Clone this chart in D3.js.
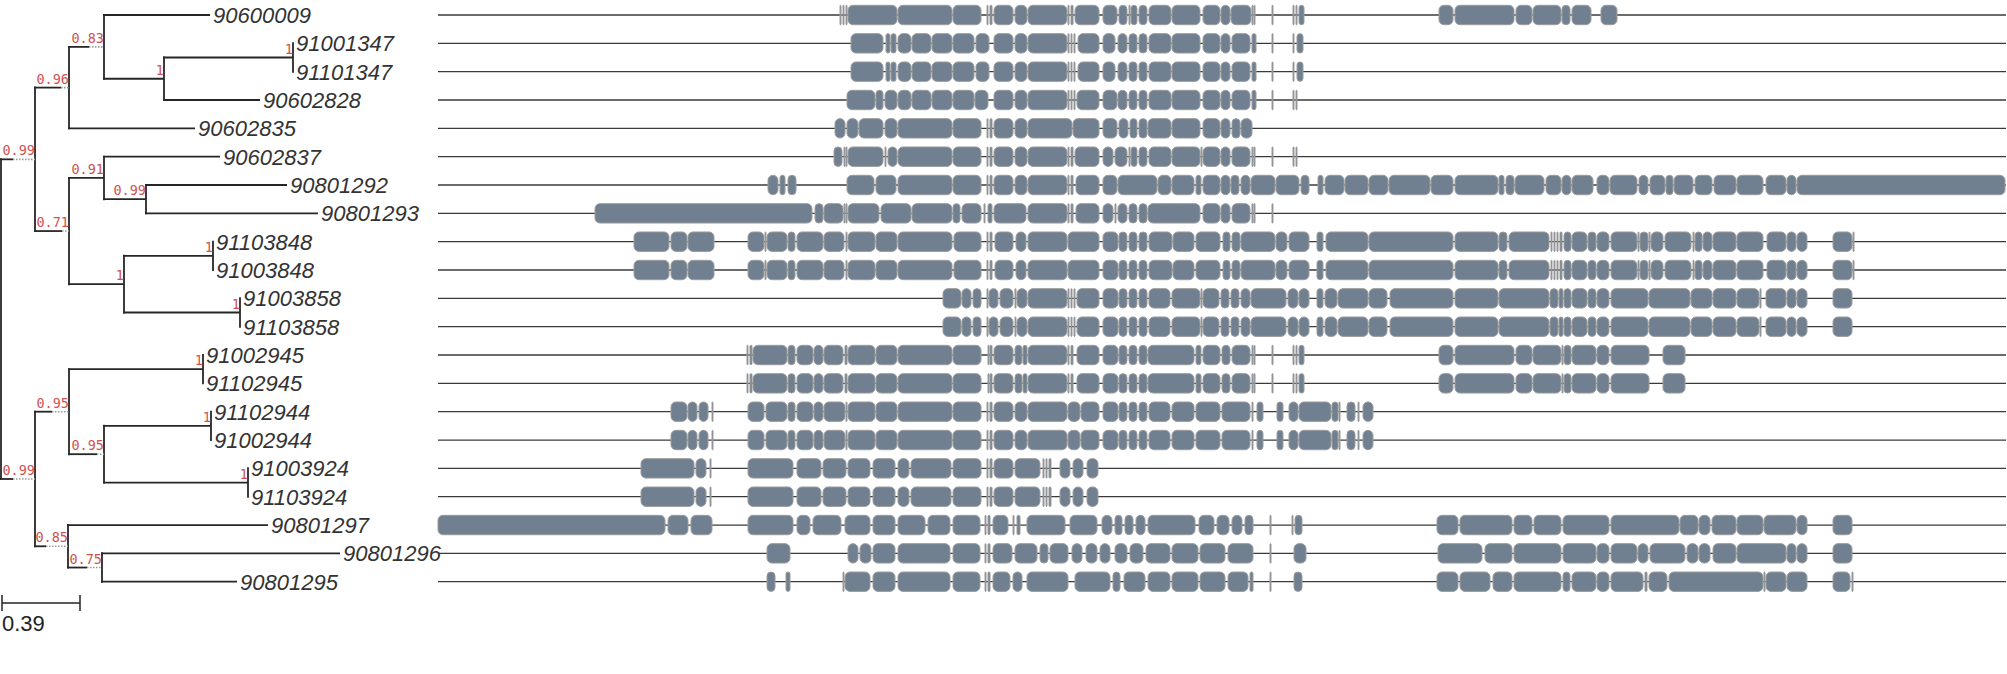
<!DOCTYPE html>
<html>
<head>
<meta charset="utf-8">
<script src="https://cdn.jsdelivr.net/npm/d3@7/dist/d3.min.js"></script>
<style>
  body { margin: 0; background: #fff; }
  svg { display: block; }
</style>
</head>
<body>
<script>
// ---- tree (parallel arrays, children in drawing order) ----
var nodeIds = ['root','A','B','D','90600009','E','F','91001347','91101347','90602828','90602835',
  'C','G','90602837','H','90801292','90801293','I','J','91103848','91003848','K','91003858','91103858',
  'L','M','O','91002945','91102945','P','Q','91102944','91002944','R','91003924','91103924',
  'N','90801297','S','90801296','90801295'];
var nodeParents = ['','root','A','B','D','D','E','F','F','E','B',
  'A','C','G','G','H','H','C','I','J','J','I','K','K',
  'root','L','M','O','O','M','P','Q','Q','P','R','R',
  'L','N','N','S','S'];
var branchLen = [0,0.17,0.17,0.175,0.53,0.30,0.645,0,0,0.48,0.63,
  0.17,0.175,0.58,0.21,0.705,0.86,0.275,0.445,0,0,0.58,0,0,
  0.17,0.17,0.67,0,0,0.175,0.535,0,0,0.72,0,0,
  0.165,1.0,0.17,1.19,0.675];
var support = [null,'0.99','0.96','0.83',null,'1','1',null,null,null,null,
  '0.71','0.91',null,'0.99',null,null,'1','1',null,null,'1',null,null,
  '0.99','0.95','1',null,null,'0.95','1',null,null,'1',null,null,
  '0.85',null,'0.75',null,null];
// part of the branch (tree units) shown dotted
var dottedTail = [0,0.11,0.04,0.075,0,0,0,0,0,0,0,
  0.035,0,0,0,0,0,0,0,0,0,0,0,0,
  0.11,0.085,0,0,0,0.035,0,0,0,0,0,0,
  0.11,0,0.075,0,0];
var scaleBarLen = 0.39;

// ---- gene structures: exon [start, end] on the alignment ----
var exons_90600009 = [[402,403],[405,406],[408,409],[410,459],[460,514],[515,543],[549,550],[552,554],[556,575],[577,589],[590,629],[630,631],[633,635],[637,661],[665,679],[681,689],[691,692],[693,699],[701,709],[711,733],[734,762],[765,782],[783,792],[793,813],[814,815],[816,817],[834,835],[855,856],[858,859],[861,866],[1001,1015],[1017,1076],[1078,1094],[1095,1123],[1124,1132],[1134,1153],[1163,1179]];
var exons_91001347 = [[413,445],[448,452],[453,458],[460,473],[474,493],[494,514],[515,536],[538,551],[556,575],[577,589],[590,629],[630,631],[633,634],[636,637],[640,661],[665,677],[680,689],[691,699],[701,709],[711,733],[734,762],[765,782],[783,792],[794,812],[814,818],[834,835],[855,856],[859,865]];
var exons_90602828 = [[409,437],[438,445],[447,459],[460,473],[474,493],[494,514],[515,536],[537,550],[556,575],[577,589],[590,629],[630,631],[633,634],[636,637],[639,661],[665,679],[680,689],[691,699],[701,709],[711,733],[734,762],[765,782],[783,792],[794,812],[814,818],[834,835],[855,856],[858,859]];
var exons_90602835 = [[397,407],[409,420],[421,445],[447,459],[460,514],[515,543],[549,550],[552,554],[556,575],[577,589],[590,634],[635,661],[665,679],[681,690],[692,699],[701,709],[710,733],[734,762],[765,782],[783,792],[794,802],[803,814]];
var exons_90602837 = [[396,404],[406,407],[408,409],[410,445],[447,448],[450,459],[460,514],[515,543],[549,550],[552,554],[556,575],[577,589],[590,629],[630,631],[633,635],[637,661],[665,675],[677,689],[691,692],[693,699],[701,709],[711,733],[734,762],[763,764],[765,782],[783,792],[794,812],[814,815],[816,817],[834,835],[855,856],[858,859]];
var exons_90801292 = [[330,340],[342,347],[350,358],[409,436],[438,458],[460,514],[515,543],[549,550],[552,554],[556,575],[577,589],[590,629],[630,631],[633,635],[638,661],[665,679],[680,719],[720,733],[734,756],[758,763],[765,782],[783,792],[793,801],[803,812],[813,837],[838,861],[863,871],[880,885],[887,906],[907,930],[931,950],[951,992],[993,1015],[1017,1060],[1061,1066],[1068,1076],[1077,1106],[1108,1123],[1124,1133],[1134,1155],[1159,1171],[1172,1199],[1201,1210],[1212,1227],[1228,1235],[1236,1255],[1257,1274],[1276,1298],[1299,1325],[1328,1348],[1349,1358],[1359,1567]];
var exons_90801293 = [[157,374],[377,385],[386,405],[406,407],[408,409],[410,441],[443,473],[474,514],[515,522],[524,543],[546,547],[550,554],[556,588],[590,629],[630,631],[633,635],[638,661],[665,675],[677,678],[680,689],[691,699],[701,709],[710,762],[765,782],[783,792],[794,812],[814,815],[816,817],[834,835]];
var exons_91103848 = [[196,231],[233,249],[250,276],[310,326],[327,328],[329,349],[350,357],[359,385],[386,406],[408,409],[410,437],[438,459],[460,514],[516,543],[549,550],[552,554],[557,575],[578,588],[590,629],[630,661],[665,680],[681,689],[691,699],[701,709],[711,734],[735,756],[758,782],[785,792],[794,802],[803,837],[838,849],[851,871],[879,885],[888,930],[931,1015],[1017,1060],[1061,1069],[1071,1111],[1113,1114],[1116,1117],[1119,1120],[1122,1124],[1126,1133],[1134,1149],[1150,1158],[1159,1171],[1173,1199],[1200,1201],[1202,1210],[1211,1212],[1213,1225],[1227,1253],[1255,1256],[1257,1264],[1265,1274],[1275,1298],[1299,1325],[1329,1348],[1349,1358],[1359,1369],[1395,1414],[1415,1416]];
var exons_91003858 = [[505,523],[524,533],[535,543],[549,550],[551,560],[562,575],[577,578],[579,589],[590,629],[630,631],[633,634],[636,637],[639,661],[665,680],[681,689],[691,699],[701,709],[711,732],[734,762],[763,764],[765,781],[783,791],[793,801],[803,812],[813,848],[850,860],[861,871],[879,885],[887,899],[900,930],[931,949],[952,1015],[1017,1060],[1061,1111],[1112,1120],[1121,1125],[1126,1133],[1134,1149],[1150,1158],[1159,1171],[1173,1210],[1211,1252],[1253,1274],[1275,1298],[1299,1321],[1322,1323],[1328,1348],[1349,1358],[1359,1369],[1395,1414]];
var exons_91002945 = [[309,310],[312,314],[315,349],[350,357],[359,375],[376,385],[386,405],[407,409],[410,437],[438,459],[460,514],[515,543],[550,551],[552,554],[556,575],[577,584],[585,589],[590,629],[630,631],[633,635],[639,661],[665,680],[681,689],[691,699],[701,709],[710,756],[758,763],[765,782],[784,792],[794,812],[814,815],[816,817],[834,835],[855,856],[858,859],[861,866],[1001,1015],[1017,1076],[1078,1094],[1095,1123],[1124,1125],[1126,1133],[1134,1158],[1159,1171],[1173,1211],[1225,1247]];
var exons_91102944 = [[233,249],[250,259],[261,270],[274,275],[310,326],[328,349],[350,357],[359,375],[376,385],[386,407],[408,409],[410,437],[438,459],[460,514],[515,543],[549,550],[552,554],[556,575],[577,589],[590,629],[630,642],[643,661],[665,680],[681,689],[691,699],[701,709],[711,732],[734,756],[758,782],[784,812],[814,815],[819,825],[839,845],[851,860],[861,893],[894,900],[901,902],[909,917],[920,921],[925,935]];
var exons_91003924 = [[203,256],[258,268],[272,273],[310,355],[359,383],[385,408],[410,432],[435,457],[460,471],[473,513],[515,543],[549,550],[552,554],[556,575],[577,602],[605,606],[608,609],[611,613],[622,632],[635,645],[649,660]];
var exons_90801297 = [[0,227],[230,250],[253,274],[310,355],[359,372],[375,403],[407,432],[435,457],[460,487],[490,512],[515,542],[547,548],[550,552],[555,570],[575,576],[579,582],[589,627],[632,659],[664,674],[677,684],[687,695],[698,707],[710,757],[761,776],[779,791],[794,804],[807,815],[832,833],[854,855],[857,864],[999,1020],[1022,1074],[1076,1094],[1096,1123],[1125,1171],[1173,1241],[1242,1260],[1261,1272],[1274,1298],[1299,1325],[1326,1358],[1359,1369],[1395,1414]];
var exons_90801296 = [[329,352],[410,420],[422,433],[435,457],[460,512],[515,542],[547,548],[550,552],[555,574],[577,599],[602,610],[612,630],[634,644],[648,659],[662,672],[677,689],[692,705],[708,732],[734,760],[762,787],[790,815],[832,833],[856,868],[1000,1044],[1047,1074],[1076,1123],[1125,1158],[1159,1171],[1173,1199],[1200,1210],[1212,1247],[1249,1260],[1261,1272],[1275,1298],[1299,1348],[1349,1358],[1359,1369],[1395,1414]];
var exons_90801295 = [[329,337],[348,352],[405,406],[407,432],[435,457],[460,512],[515,542],[547,548],[550,552],[555,572],[575,584],[589,630],[637,672],[675,682],[686,707],[710,732],[734,760],[762,787],[790,810],[812,815],[832,833],[856,864],[999,1020],[1022,1052],[1055,1074],[1076,1123],[1125,1132],[1134,1158],[1159,1171],[1173,1205],[1207,1209],[1211,1229],[1231,1325],[1326,1327],[1328,1348],[1349,1369],[1395,1412],[1414,1415]];
var alignmentLength = 1568;

var geneExons = {
  '90600009': exons_90600009, '91001347': exons_91001347, '91101347': exons_91001347,
  '90602828': exons_90602828, '90602835': exons_90602835, '90602837': exons_90602837,
  '90801292': exons_90801292, '90801293': exons_90801293,
  '91103848': exons_91103848, '91003848': exons_91103848,
  '91003858': exons_91003858, '91103858': exons_91003858,
  '91002945': exons_91002945, '91102945': exons_91002945,
  '91102944': exons_91102944, '91002944': exons_91102944,
  '91003924': exons_91003924, '91103924': exons_91003924,
  '90801297': exons_90801297, '90801296': exons_90801296, '90801295': exons_90801295
};

var W = 2007, H = 674;
var svg = d3.select('body').append('svg')
            .attr('width', W)
            .attr('height', H);

var table = nodeIds.map(function(id, i){
  return {id: id, parent: nodeParents[i] || null, len: branchLen[i], support: support[i], dotted: dottedTail[i]};
});
var root = d3.stratify().id(function(d){return d.id;}).parentId(function(d){return d.parent;})(table);
root.eachBefore(function(n){ n.dist = (n.parent ? n.parent.dist : 0) + n.data.len; });

var leaves = root.leaves();
var yRow = d3.scalePoint().domain(leaves.map(function(d){return d.id;})).range([15, 581.7]);
var xTree = d3.scaleLinear().domain([0, scaleBarLen]).range([1, 79]);
var xGene = d3.scaleLinear().domain([0, alignmentLength]).range([438, 2006]);

root.eachAfter(function(n){
  if (n.children) {
    n.yy = (n.children[0].yy + n.children[n.children.length-1].yy) / 2;
  } else {
    n.yy = yRow(n.id);
  }
});

var tree = svg.append('g');
var nodes = root.descendants();

// vertical connectors
tree.selectAll('line.v').data(nodes.filter(function(d){return d.children;})).enter()
    .append('line')
    .attr('class', 'v')
    .attr('x1', function(d){return xTree(d.dist);})
    .attr('x2', function(d){return xTree(d.dist);})
    .attr('y1', function(d){return d.children[0].yy - 1;})
    .attr('y2', function(d){return d.children[d.children.length-1].yy + 1;})
    .style('stroke', '#262626')
    .style('stroke-width', 1.8);

// horizontal branches (solid part)
var branches = nodes.filter(function(d){return d.parent && d.data.len > 0;});
tree.selectAll('line.h').data(branches).enter()
    .append('line')
    .attr('class', 'h')
    .attr('x1', function(d){return xTree(d.parent.dist) - 0.9;})
    .attr('x2', function(d){return xTree(d.dist - d.data.dotted);})
    .attr('y1', function(d){return d.yy;})
    .attr('y2', function(d){return d.yy;})
    .style('stroke', '#262626')
    .style('stroke-width', 1.8);

// dotted tails
tree.selectAll('line.d').data(branches.filter(function(d){return d.data.dotted > 0;})).enter()
    .append('line')
    .attr('class', 'd')
    .attr('x1', function(d){return xTree(d.dist - d.data.dotted);})
    .attr('x2', function(d){return xTree(d.dist);})
    .attr('y1', function(d){return d.yy;})
    .attr('y2', function(d){return d.yy;})
    .style('stroke', '#9a9a9a')
    .style('stroke-width', 1.6)
    .style('stroke-dasharray', '1.5,1.5');

// support values
tree.selectAll('text.s').data(nodes.filter(function(d){return d.data.support;})).enter()
    .append('text')
    .attr('class', 's')
    .attr('x', function(d){return xTree(d.dist);})
    .attr('y', function(d){return d.yy - 4;})
    .attr('text-anchor', 'end')
    .style('font-family', '"DejaVu Sans Mono", monospace')
    .style('font-size', '13.5px')
    .style('fill', '#d05252')
    .text(function(d){return d.data.support;});

// leaf names
tree.selectAll('text.leaf').data(leaves).enter()
    .append('text')
    .attr('class', 'leaf')
    .attr('x', function(d){return xTree(d.dist) + 3;})
    .attr('y', function(d){return d.yy + 8;})
    .style('font-family', '"Liberation Sans", Arial, sans-serif')
    .style('font-style', 'italic')
    .style('font-size', '22px')
    .style('fill', '#333')
    .text(function(d){return d.id;});

// scale bar
var sb = svg.append('g').attr('transform', 'translate(1,0)');
sb.append('line')
  .attr('x1', xTree(0)).attr('x2', xTree(scaleBarLen))
  .attr('y1', 603).attr('y2', 603)
  .style('stroke', '#222').style('stroke-width', 1.5);
sb.selectAll('line.tick').data([0, scaleBarLen]).enter()
  .append('line')
  .attr('class', 'tick')
  .attr('x1', function(d){return xTree(d);})
  .attr('x2', function(d){return xTree(d);})
  .attr('y1', 595).attr('y2', 611)
  .style('stroke', '#222').style('stroke-width', 1.5);
sb.append('text')
  .attr('x', xTree(0))
  .attr('y', 631)
  .style('font-family', '"Liberation Sans", Arial, sans-serif')
  .style('font-size', '22px')
  .style('fill', '#222')
  .text(scaleBarLen);

// gene structures
var genes = svg.append('g');
var rows = genes.selectAll('g.row').data(leaves).enter()
    .append('g')
    .attr('class', 'row')
    .attr('transform', function(d){return 'translate(0,' + d.yy + ')';});

rows.append('line')
    .attr('x1', xGene(0))
    .attr('x2', xGene(alignmentLength))
    .attr('y1', 0).attr('y2', 0)
    .style('stroke', '#3a3a3a')
    .style('stroke-width', 1.3);

rows.selectAll('rect').data(function(d){return geneExons[d.id];}).enter()
    .append('rect')
    .attr('x', function(d){return xGene(d[0]);})
    .attr('width', function(d){return Math.max(1, xGene(d[1]) - xGene(d[0]));})
    .attr('y', -9.7)
    .attr('height', 19.4)
    .attr('rx', function(d){return Math.min(5, Math.max(0.5, (xGene(d[1]) - xGene(d[0])) / 2));})
    .style('fill', '#708090')
    .style('stroke', '#9c9c9c')
    .style('stroke-width', 1);
</script>
</body>
</html>
